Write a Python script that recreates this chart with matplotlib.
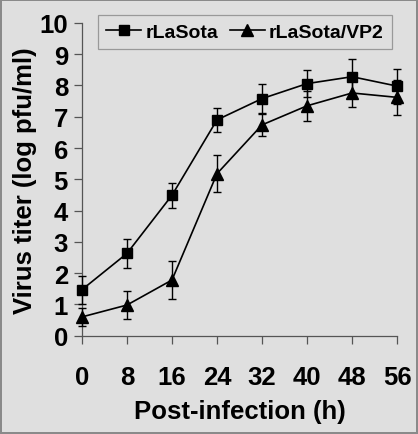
import matplotlib
matplotlib.use("Agg")
import matplotlib.pyplot as plt
from matplotlib.lines import Line2D

# --------- data ----------
hours = [0, 8, 16, 24, 32, 40, 48, 56]
lasota = [1.47, 2.63, 4.49, 6.9, 7.58, 8.06, 8.28, 7.98]
lasota_err = [0.45, 0.47, 0.4, 0.38, 0.47, 0.42, 0.58, 0.56]
vp2 = [0.6, 0.98, 1.78, 5.18, 6.74, 7.35, 7.76, 7.62]
vp2_err = [0.28, 0.45, 0.62, 0.6, 0.35, 0.47, 0.46, 0.55]

BG = "#dfdfdf"
plt.rcParams['font.family'] = ['Liberation Sans', 'DejaVu Sans']
plt.rcParams['font.weight'] = 'bold'

fig = plt.figure(figsize=(4.18, 4.35), dpi=100, facecolor=BG,
                 edgecolor="#8a8a8a", linewidth=1.5)
ax = fig.add_axes([0.196, 0.226, 0.754, 0.719])
ax.set_facecolor(BG)

ax.errorbar(hours, lasota, yerr=lasota_err, color="black", marker="s",
            markersize=6.5, linewidth=1.2, elinewidth=1.0, capsize=3,
            capthick=1.0, clip_on=False, zorder=3)
ax.errorbar(hours, vp2, yerr=vp2_err, color="black", marker="^",
            markersize=8, linewidth=1.2, elinewidth=1.0, capsize=3,
            capthick=1.0, clip_on=False, zorder=3)

ax.set_xlim(0, 56)
ax.set_ylim(0, 10)
ax.set_xticks(hours)
ax.set_yticks(range(0, 11))
for s in ["top", "right"]:
    ax.spines[s].set_visible(False)
for s in ["left", "bottom"]:
    ax.spines[s].set_color("#555555")
    ax.spines[s].set_linewidth(0.9)
ax.tick_params(axis="both", colors="#555555", length=6, width=0.9,
               labelcolor="black", labelsize=18.5)
ax.tick_params(axis="x", pad=15)
ax.tick_params(axis="y", pad=4)

ax.set_xlabel("Post-infection (h)", fontsize=18.5, fontweight="bold", labelpad=7)
ax.set_ylabel("Virus titer (log pfu/ml)", fontsize=18.5, fontweight="bold", labelpad=2)

handles = [
    Line2D([], [], color="black", marker="s", markersize=7, linewidth=1.2),
    Line2D([], [], color="black", marker="^", markersize=9, linewidth=1.2),
]
leg = ax.legend(handles, ["rLaSota", "rLaSota/VP2"], loc="upper center",
                ncol=2, bbox_to_anchor=(0.517, 1.026), borderaxespad=0,
                frameon=True, fancybox=False, fontsize=14, handlelength=1.8,
                columnspacing=0.6, handletextpad=0.2, borderpad=0.42)
leg.get_frame().set_facecolor(BG)
leg.get_frame().set_edgecolor("#888888")
leg.get_frame().set_linewidth(0.9)
for t in leg.get_texts():
    t.set_fontweight("bold")

fig.savefig("out.png", dpi=100, facecolor=BG, edgecolor="#8a8a8a")
